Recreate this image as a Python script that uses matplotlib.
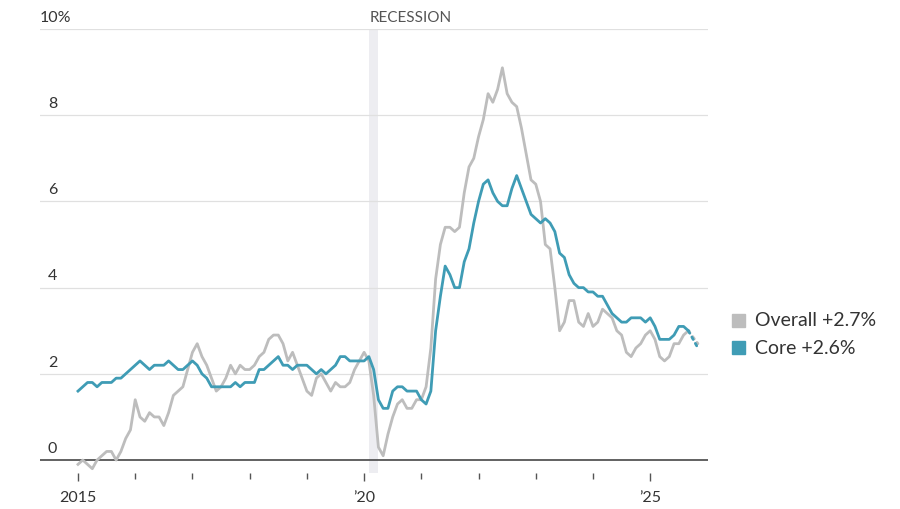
import numpy as np
import matplotlib
matplotlib.use('Agg')
import matplotlib.pyplot as plt
from matplotlib.patches import Rectangle
import matplotlib.transforms as mtransforms

# monthly year-over-year change, Jan 2015 - Nov 2025 (Oct 2025 missing)
overall = [
    -0.1, 0.0, -0.1, -0.2, 0.0, 0.1, 0.2, 0.2, 0.0, 0.2, 0.5, 0.7,
    1.4, 1.0, 0.9, 1.1, 1.0, 1.0, 0.8, 1.1, 1.5, 1.6, 1.7, 2.1,
    2.5, 2.7, 2.4, 2.2, 1.9, 1.6, 1.7, 1.9, 2.2, 2.0, 2.2, 2.1,
    2.1, 2.2, 2.4, 2.5, 2.8, 2.9, 2.9, 2.7, 2.3, 2.5, 2.2, 1.9,
    1.6, 1.5, 1.9, 2.0, 1.8, 1.6, 1.8, 1.7, 1.7, 1.8, 2.1, 2.3,
    2.5, 2.3, 1.5, 0.3, 0.1, 0.6, 1.0, 1.3, 1.4, 1.2, 1.2, 1.4,
    1.4, 1.7, 2.6, 4.2, 5.0, 5.4, 5.4, 5.3, 5.4, 6.2, 6.8, 7.0,
    7.5, 7.9, 8.5, 8.3, 8.6, 9.1, 8.5, 8.3, 8.2, 7.7, 7.1, 6.5,
    6.4, 6.0, 5.0, 4.9, 4.0, 3.0, 3.2, 3.7, 3.7, 3.2, 3.1, 3.4,
    3.1, 3.2, 3.5, 3.4, 3.3, 3.0, 2.9, 2.5, 2.4, 2.6, 2.7, 2.9,
    3.0, 2.8, 2.4, 2.3, 2.4, 2.7, 2.7, 2.9, 3.0, np.nan, 2.7,
]
core = [
    1.6, 1.7, 1.8, 1.8, 1.7, 1.8, 1.8, 1.8, 1.9, 1.9, 2.0, 2.1,
    2.2, 2.3, 2.2, 2.1, 2.2, 2.2, 2.2, 2.3, 2.2, 2.1, 2.1, 2.2,
    2.3, 2.2, 2.0, 1.9, 1.7, 1.7, 1.7, 1.7, 1.7, 1.8, 1.7, 1.8,
    1.8, 1.8, 2.1, 2.1, 2.2, 2.3, 2.4, 2.2, 2.2, 2.1, 2.2, 2.2,
    2.2, 2.1, 2.0, 2.1, 2.0, 2.1, 2.2, 2.4, 2.4, 2.3, 2.3, 2.3,
    2.3, 2.4, 2.1, 1.4, 1.2, 1.2, 1.6, 1.7, 1.7, 1.6, 1.6, 1.6,
    1.4, 1.3, 1.6, 3.0, 3.8, 4.5, 4.3, 4.0, 4.0, 4.6, 4.9, 5.5,
    6.0, 6.4, 6.5, 6.2, 6.0, 5.9, 5.9, 6.3, 6.6, 6.3, 6.0, 5.7,
    5.6, 5.5, 5.6, 5.5, 5.3, 4.8, 4.7, 4.3, 4.1, 4.0, 4.0, 3.9,
    3.9, 3.8, 3.8, 3.6, 3.4, 3.3, 3.2, 3.2, 3.3, 3.3, 3.3, 3.2,
    3.3, 3.1, 2.8, 2.8, 2.8, 2.9, 3.1, 3.1, 3.0, np.nan, 2.6,
]
year_ticks = [2015, 2016, 2017, 2018, 2019, 2020, 2021, 2022, 2023, 2024, 2025]
year_labels = ['2015', '', '', '', '', '\u201920', '', '', '', '', '\u201925']
y_ticks = [0, 2, 4, 6, 8, 10]
recession = (2020 + 1/12, 2020 + 3/12)
series_names = ['Overall +2.7%', 'Core +2.6%']

plt.rcParams['font.family'] = ['Lato', 'DejaVu Sans']

gray = '#bdbdbd'
teal = '#3f9cb5'
txt = '#333333'

x = 2015 + np.arange(len(overall)) / 12

fig = plt.figure(figsize=(9, 5.1), dpi=100)
ax = fig.add_axes([40/900, 36/510, 668/900, 444/510])

ax.axvspan(recession[0], recession[1], color='#ededf1', lw=0, zorder=0)

for yv in y_ticks[1:]:
    ax.axhline(yv, color='#e0e0e0', lw=0.9, zorder=1)
ax.axhline(0, color='#555555', lw=1.3, zorder=2)

for vals, col in [(overall, gray), (core, teal)]:
    v = np.array(vals)
    ax.plot(x[:-2], v[:-2], color=col, lw=2.0, zorder=3, solid_joinstyle='round')
    ax.plot([x[-3], x[-1]], [v[-3], v[-1]], color=col, lw=2.0, ls=(0, (1, 1.6)),
            zorder=3, dash_capstyle='round')

ax.set_xlim(2014.336, 2026.01)
ax.set_ylim(-0.3, 10)
for s in ax.spines.values():
    s.set_visible(False)
ax.set_yticks([])
ax.set_xticks(year_ticks)
ax.set_xticklabels(year_labels, fontsize=11.5, color=txt)
ax.tick_params(axis='x', length=4, width=1, color='#555555', pad=8)
for t, lab in zip(ax.xaxis.get_major_ticks(), year_labels):
    if lab:
        t.tick1line.set_markersize(6)

trans = mtransforms.blended_transform_factory(fig.transFigure, ax.transData)
for yv in y_ticks:
    lab = '10%' if yv == 10 else str(yv)
    xpos = 40/900 if yv == 10 else 48/900
    ax.text(xpos, yv + 0.12, lab, transform=trans, fontsize=11.5, color=txt,
            ha='left', va='bottom')

ax.text(recession[0] + 0.02, 10.12, 'RECESSION', fontsize=11, color='#555555',
        ha='left', va='bottom')

for i, (name, col) in enumerate(zip(series_names, [gray, teal])):
    yc = 1 - (321 + i * 27) / 510
    fig.patches.append(Rectangle((732/900, yc - 6.5/510), 13/900, 13/510,
                                 transform=fig.transFigure, color=col))
    fig.text(755/900, yc, name, fontsize=14, color=txt, va='center', ha='left')

fig.savefig('out.png', dpi=100)
